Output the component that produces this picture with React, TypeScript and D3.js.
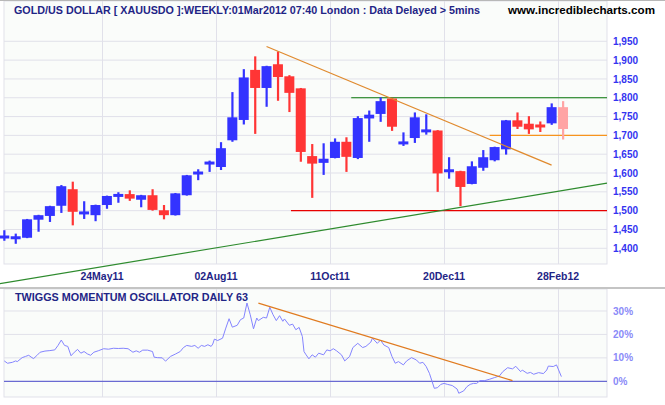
import * as d3 from "d3";

// weekly candles (week ending Friday)
const candleDates = [
  "2011-03-25", "2011-04-01", "2011-04-08", "2011-04-15", "2011-04-22", "2011-04-29",
  "2011-05-06", "2011-05-13", "2011-05-20", "2011-05-27", "2011-06-03", "2011-06-10",
  "2011-06-17", "2011-06-24", "2011-07-01", "2011-07-08", "2011-07-15", "2011-07-22",
  "2011-07-29", "2011-08-05", "2011-08-12", "2011-08-19", "2011-08-26", "2011-09-02",
  "2011-09-09", "2011-09-16", "2011-09-23", "2011-09-30", "2011-10-07", "2011-10-14",
  "2011-10-21", "2011-10-28", "2011-11-04", "2011-11-11", "2011-11-18", "2011-11-25",
  "2011-12-02", "2011-12-09", "2011-12-16", "2011-12-23", "2011-12-30", "2012-01-06",
  "2012-01-13", "2012-01-20", "2012-01-27", "2012-02-03", "2012-02-10", "2012-02-17",
  "2012-02-24", "2012-03-02",
];
const opens = [
  1428, 1426, 1428, 1476, 1486, 1513, 1557, 1492, 1488, 1515, 1537, 1544, 1529, 1541, 1501,
  1488, 1541, 1598, 1623, 1616, 1687, 1741, 1874, 1826, 1889, 1857, 1825, 1645, 1627, 1640,
  1683, 1640, 1745, 1757, 1798, 1678, 1693, 1710, 1713, 1604, 1605, 1571, 1614, 1634, 1663,
  1740, 1731, 1727, 1732, 1775,
];
const highs = [
  1448, 1439, 1478, 1489, 1513, 1568, 1577, 1525, 1516, 1540, 1549, 1554, 1542, 1557, 1515,
  1547, 1595, 1610, 1633, 1682, 1815, 1876, 1910, 1885, 1923, 1860, 1826, 1677, 1679, 1692,
  1695, 1751, 1766, 1801, 1800, 1708, 1761, 1756, 1714, 1642, 1606, 1631, 1661, 1670, 1741,
  1761, 1751, 1737, 1785, 1791,
];
const lows = [
  1420, 1412, 1427, 1444, 1470, 1494, 1461, 1478, 1472, 1505, 1521, 1526, 1509, 1500, 1477,
  1487, 1540, 1581, 1603, 1608, 1683, 1729, 1704, 1776, 1792, 1762, 1630, 1534, 1595, 1639,
  1603, 1637, 1683, 1736, 1712, 1672, 1680, 1702, 1550, 1585, 1512, 1570, 1606, 1631, 1649,
  1717, 1704, 1709, 1728, 1689,
];
const closes = [
  1432, 1430, 1477, 1488, 1512, 1565, 1497, 1496, 1515, 1539, 1544, 1532, 1541, 1502, 1488,
  1546, 1594, 1602, 1630, 1666, 1748, 1854, 1826, 1884, 1855, 1813, 1656, 1625, 1638, 1683,
  1643, 1746, 1755, 1791, 1723, 1682, 1748, 1714, 1599, 1608, 1563, 1618, 1642, 1669, 1740,
  1723, 1716, 1723, 1775, 1717,
];

// Twiggs momentum oscillator (daily, %)
const oscDates = [
  "2011-03-25", "2011-03-27", "2011-03-30", "2011-04-01", "2011-04-02", "2011-04-05",
  "2011-04-07", "2011-04-09", "2011-04-11", "2011-04-12", "2011-04-14", "2011-04-16",
  "2011-04-19", "2011-04-22", "2011-04-25", "2011-04-27", "2011-04-29", "2011-05-01",
  "2011-05-03", "2011-05-05", "2011-05-07", "2011-05-09", "2011-05-11", "2011-05-13",
  "2011-05-15", "2011-05-17", "2011-05-19", "2011-05-22", "2011-05-25", "2011-05-28",
  "2011-05-31", "2011-06-03", "2011-06-06", "2011-06-09", "2011-06-12", "2011-06-14",
  "2011-06-16", "2011-06-18", "2011-06-21", "2011-06-24", "2011-06-25", "2011-06-27",
  "2011-06-30", "2011-07-02", "2011-07-05", "2011-07-08", "2011-07-11", "2011-07-13",
  "2011-07-15", "2011-07-18", "2011-07-20", "2011-07-22", "2011-07-24", "2011-07-26",
  "2011-07-28", "2011-07-30", "2011-07-31", "2011-08-01", "2011-08-03", "2011-08-06",
  "2011-08-08", "2011-08-10", "2011-08-12", "2011-08-15", "2011-08-17", "2011-08-19",
  "2011-08-21", "2011-08-23", "2011-08-25", "2011-08-27", "2011-08-28", "2011-08-31",
  "2011-09-02", "2011-09-04", "2011-09-06", "2011-09-08", "2011-09-10", "2011-09-12",
  "2011-09-13", "2011-09-16", "2011-09-18", "2011-09-20", "2011-09-22", "2011-09-24",
  "2011-09-25", "2011-09-26", "2011-09-28", "2011-09-30", "2011-10-02", "2011-10-04",
  "2011-10-07", "2011-10-09", "2011-10-11", "2011-10-13", "2011-10-15", "2011-10-18",
  "2011-10-20", "2011-10-23", "2011-10-25", "2011-10-28", "2011-10-31", "2011-11-02",
  "2011-11-05", "2011-11-06", "2011-11-09", "2011-11-11", "2011-11-13", "2011-11-16",
  "2011-11-18", "2011-11-20", "2011-11-22", "2011-11-25", "2011-11-27", "2011-11-30",
  "2011-12-03", "2011-12-05", "2011-12-07", "2011-12-09", "2011-12-11", "2011-12-14",
  "2011-12-16", "2011-12-18", "2011-12-20", "2011-12-22", "2011-12-25", "2011-12-28",
  "2011-12-29", "2012-01-01", "2012-01-03", "2012-01-05", "2012-01-07", "2012-01-09",
  "2012-01-11", "2012-01-14", "2012-01-17", "2012-01-20", "2012-01-23", "2012-01-25",
  "2012-01-28", "2012-01-31", "2012-02-02", "2012-02-05", "2012-02-06", "2012-02-09",
  "2012-02-11", "2012-02-13", "2012-02-16", "2012-02-19", "2012-02-21", "2012-02-22",
  "2012-02-25", "2012-02-27", "2012-03-01",
];
const oscValues = [
  8.7, 7.7, 8.1, 8.7, 8.4, 10.1, 10.6, 11.1, 10.1, 9.7, 11, 12.4,
  12.9, 13.1, 13.4, 15.3, 17.6, 15.3, 14.9, 10.9, 12.4, 13.6, 12, 12.7,
  11.7, 11.1, 12.4, 13.1, 13.9, 13.7, 14.1, 14, 14.1, 13.9, 12.4, 13,
  12.4, 13.3, 13.3, 12.7, 10.3, 10.1, 10, 8.6, 10.6, 11.6, 12.7, 14.4,
  15.3, 14.9, 15.3, 14.1, 15.3, 14.9, 15.6, 14.9, 15.9, 18, 17.4, 18.4,
  22.7, 26.7, 23.1, 23.9, 26.3, 27, 33.4, 28.4, 22.4, 27, 25.9, 27.3,
  27, 31.6, 28.4, 25.9, 28, 25.6, 26.6, 23.9, 24.4, 22, 23, 19.1,
  12.7, 11.6, 9.6, 11.3, 10.3, 12, 11.3, 13.4, 13, 13.9, 13, 11.3,
  8.7, 10.6, 14.4, 16.2, 14.4, 14.9, 16.7, 18.4, 16.2, 17.6, 15.5, 14.4,
  10.6, 7.7, 8.4, 7, 8.7, 10.1, 9.1, 7.7, 8.1, 6.3, 3.4, -3,
  -2.7, -1.3, -0.9, -1.3, -1.8, -3.3, -5.1, -4.1, -2.3, -1.3, -0.9, -0.9,
  0.3, 0.3, 0.9, 1.6, 2.3, 4.1, 5.8, 5.3, 6.4, 4.1, 4.8, 3.4,
  3.8, 3, 3.7, 3.3, 4.8, 6.5, 6.3, 7, 2,
];

// drawn lines: [date, value]
const priceDownTrend: [string, number][] = [["2011-09-02", 1936], ["2012-02-24", 1621]];
const priceUpTrend: [string, number][] = [["2011-03-22", 1306], ["2012-03-29", 1573]];
const resistance1800: [string, number][] = [["2011-10-24", 1800], ["2012-03-29", 1800]];
const support1500: [string, number][] = [["2011-09-17", 1500], ["2012-03-29", 1500]];
const level1700: [string, number][] = [["2012-01-17", 1700], ["2012-03-29", 1700]];
const oscDownTrend: [string, number][] = [["2011-08-28", 33.4], ["2012-01-31", 0.3]];

const priceTicks = [1400, 1450, 1500, 1550, 1600, 1650, 1700, 1750, 1800, 1850, 1900, 1950];
const pctTicks = [0, 10, 20, 30];
const dateTicks = ["2011-05-24", "2011-08-02", "2011-10-11", "2011-12-20", "2012-02-28"];
const dateTickLabels = ["24May11", "02Aug11", "11Oct11", "20Dec11", "28Feb12"];

const parse = d3.timeParse("%Y-%m-%d");
const font = "'Liberation Sans', Arial, sans-serif";
const navy = "#1f2586";

export default function App() {
  const width = 665;
  const height = 405;
  const left = 4;
  const right = 607;
  const mainTop = 1;
  const mainBottom = 264;
  const oscTop = 289;
  const oscBottom = 397;

  const x = d3
    .scaleTime()
    .domain([parse("2011-03-23")!, parse("2012-03-29")!])
    .range([1, right]);
  const y = d3.scaleLinear().domain([1400, 1950]).range([248.3, 41.3]);
  const yo = d3.scaleLinear().domain([0, 30]).range([381.3, 311]);

  const priceLine = d3
    .line<[string, number]>()
    .x((d) => x(parse(d[0])!))
    .y((d) => y(d[1]));
  const oscLine = d3
    .line<[string, number]>()
    .x((d) => x(parse(d[0])!))
    .y((d) => yo(d[1]));
  const oscSeries: [string, number][] = oscDates.map((d, i) => [d, oscValues[i]]);

  const gridColor = "#e1e1ea";

  return (
    <svg
      width={width}
      height={height}
      style={{ position: "fixed", left: 0, top: 0, background: "#fff" }}
      fontFamily={font}
    >
      {/* panels */}
      <rect x={left} y={mainTop} width={right - left} height={mainBottom - mainTop} fill="#fafcfa" stroke={gridColor} />
      <rect x={left} y={oscTop} width={right - left} height={oscBottom - oscTop} fill="#fafcfa" stroke={gridColor} />
      <line x1={0} x2={width} y1={0.5} y2={0.5} stroke="#b8b8b8" />
      <line x1={0} x2={width} y1={oscTop - 1} y2={oscTop - 1} stroke="#c4c4c4" strokeWidth={2} />

      {/* horizontal grid */}
      {priceTicks.map((t) => (
        <line key={t} x1={left} x2={right} y1={y(t)} y2={y(t)} stroke={gridColor} />
      ))}
      {pctTicks.slice(1).map((t) => (
        <line key={t} x1={left} x2={right} y1={yo(t)} y2={yo(t)} stroke={gridColor} />
      ))}
      {/* vertical grid */}
      {dateTicks.map((d) => {
        const xx = Math.round(x(parse(d)!)) + 0.5;
        return (
          <g key={d}>
            <line x1={xx} x2={xx} y1={mainTop} y2={mainBottom} stroke={gridColor} />
            <line x1={xx} x2={xx} y1={oscTop} y2={oscBottom} stroke={gridColor} />
          </g>
        );
      })}

      {/* titles */}
      <text x={14} y={14} fontSize={11} fontWeight="bold" fill={navy} textLength={466} lengthAdjust="spacingAndGlyphs">
        GOLD/US DOLLAR [ XAUUSDO ]:WEEKLY:01Mar2012 07:40 London : Data Delayed &gt; 5mins
      </text>
      <text x={508} y={14} fontSize={11} fontWeight="bold" fill="#000" textLength={147} lengthAdjust="spacingAndGlyphs">
        www.incrediblecharts.com
      </text>
      <text x={15} y={301} fontSize={11} fontWeight="bold" fill={navy} textLength={233} lengthAdjust="spacingAndGlyphs">
        TWIGGS MOMENTUM OSCILLATOR DAILY 63
      </text>

      {/* price axis labels */}
      {priceTicks.map((t) => (
        <text key={t} x={613} y={y(t)} dy="0.36em" fontSize={10} fontWeight="bold" fill="#3434f0">
          {d3.format(",")(t)}
        </text>
      ))}
      {pctTicks.map((t) => (
        <text key={t} x={613} y={yo(t)} dy="0.36em" fontSize={10} fontWeight="bold" fill="#8a8af8">
          {t}%
        </text>
      ))}
      {/* date labels */}
      {dateTicks.map((d, i) => (
        <text key={d} x={x(parse(d)!)} y={280} textAnchor="middle" fontSize={10.5} fontWeight="bold" fill={navy}>
          {dateTickLabels[i]}
        </text>
      ))}

      {/* support / resistance lines */}
      <path d={priceLine(support1500)!} stroke="#e80000" strokeWidth={1.2} fill="none" />
      <path d={priceLine(resistance1800)!} stroke="#0a7a0a" strokeWidth={1.2} fill="none" />
      <path d={priceLine(level1700)!} stroke="#f7941d" strokeWidth={1.2} fill="none" />
      <path d={priceLine(priceUpTrend)!} stroke="#2e8b2e" strokeWidth={1.2} fill="none" />

      {/* candles */}
      {candleDates.map((d, i) => {
        const cx = x(parse(d)!);
        const o = opens[i];
        const c = closes[i];
        const last = i === candleDates.length - 1;
        const color = last ? "#ffa4a4" : c >= o ? "#3333ff" : "#ff3535";
        const top = y(Math.max(o, c));
        const h = Math.max(3, y(Math.min(o, c)) - top);
        return (
          <g key={d} fill={color}>
            <rect x={cx - 1} y={y(highs[i])} width={2.2} height={y(lows[i]) - y(highs[i])} />
            <rect x={cx - 5} y={h === 3 ? (top + y(Math.min(o, c))) / 2 - 1.5 : top} width={10} height={h} />
          </g>
        );
      })}

      <path d={priceLine(priceDownTrend)!} stroke="#e08a2e" strokeWidth={1.2} fill="none" />

      {/* oscillator */}
      <line x1={left} x2={right} y1={yo(0)} y2={yo(0)} stroke="#6a6ad2" strokeWidth={1.2} />
      <path d={oscLine(oscSeries)!} stroke="#8484ff" strokeWidth={1} fill="none" />
      <path d={oscLine(oscDownTrend)!} stroke="#e07b20" strokeWidth={1.3} fill="none" />
    </svg>
  );
}
